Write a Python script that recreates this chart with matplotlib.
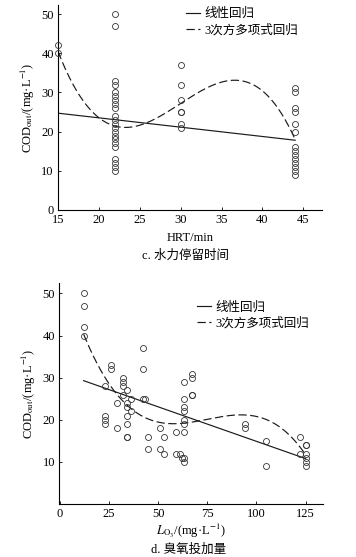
import numpy as np
from matplotlib import pyplot as plt

plt.rcParams['font.family'] = ['Liberation Serif', 'Noto Sans CJK SC']
plt.rcParams['mathtext.fontset'] = 'stix'
plt.rcParams['font.size'] = 9

# c. HRT panel, scatter values
hrt_x = [15, 15] + [22] * 22 + [30] * 7 + [44] * 14
hrt_y = [42, 40,
         50, 47, 33, 32, 30, 29, 28, 27, 26, 24, 23, 22, 21, 20, 19, 18, 17, 16, 13, 12, 11, 10,
         37, 32, 28, 25, 25, 22, 21,
         31, 30, 26, 25, 22, 20, 16, 15, 14, 13, 12, 11, 10, 9]
# points
hrt_lin_x = [15, 44]
hrt_lin_y = [24.7, 17.8]
hrt_cub_x = [15, 23.6, 30, 36.4, 44]
hrt_cub_y = [40.5, 20.9, 27.5, 32.9, 18.0]

# d. ozone dosage panel
o3_x = [12, 12, 12, 12, 23, 23, 23, 23, 26, 26, 29, 29, 32, 32, 32, 32,
        34, 34, 34, 34, 34, 34, 34, 36, 36, 42, 42, 42, 43, 45, 45, 51, 51,
        53, 53, 59, 59, 61, 62, 63, 63, 63, 63, 63, 63, 63, 63, 63,
        67, 67, 67, 67, 94, 94, 105, 105, 122, 122, 125, 125, 125, 125, 125, 125]
o3_y = [50, 47, 42, 40, 28, 21, 20, 19, 33, 32, 24, 18, 30, 29, 28, 26,
        27, 24, 23, 21, 19, 16, 16, 25, 22, 37, 32, 25, 25, 16, 13, 18, 13,
        16, 12, 17, 12, 12, 11, 29, 25, 23, 22, 20, 19, 17, 11, 10,
        31, 30, 26, 26, 19, 18, 15, 9, 16, 12, 14, 14, 12, 11, 10, 9]
o3_lin_x = [12, 125]
o3_lin_y = [29.3, 10.8]
o3_cub_x = [12, 34, 57, 94, 125]
o3_cub_y = [40.3, 23.6, 19.0, 21.2, 11.7]

lab_lin = '线性回归'
lab_cub = '3次方多项式回归'
ylab = r'COD$_{\rm out}$/(mg·L$^{-1}$)'


def panel(ax, x, y, lx, ly, cx, cy):
    ax.plot(x, y, 'o', mfc='none', mec='#333333', ms=4.3, mew=0.6, zorder=3, clip_on=False)
    lc = np.polyfit(lx, ly, 1)
    xs = np.linspace(min(lx), max(lx), 50)
    ax.plot(xs, np.polyval(lc, xs), color='#1a1a1a', lw=0.85, label=lab_lin)
    cc = np.polyfit(cx, cy, 3)
    xs = np.linspace(min(cx), max(cx), 200)
    ax.plot(xs, np.polyval(cc, xs), color='#1a1a1a', lw=0.85, dashes=(7, 3), label=lab_cub)
    for s in ['top', 'right']:
        ax.spines[s].set_visible(False)
    ax.tick_params(direction='in', length=2, width=0.6, labelsize=9, pad=3)
    ax.set_ylabel(ylab, fontsize=9, labelpad=3)


fig = plt.figure(figsize=(3.56, 5.57), dpi=100)

ax1 = fig.add_axes([0.163, 0.623, 0.742, 0.368])
panel(ax1, hrt_x, hrt_y, hrt_lin_x, hrt_lin_y, hrt_cub_x, hrt_cub_y)
ax1.set_xlim(15, 47.3)
ax1.set_ylim(0, 52.3)
ax1.set_xticks([15, 20, 25, 30, 35, 40, 45])
ax1.set_yticks([0, 10, 20, 30, 40, 50])
ax1.set_xlabel('HRT/min', fontsize=9, labelpad=4)
ax1.legend(loc='upper left', bbox_to_anchor=(0.465, 1.01), frameon=False, fontsize=9,
           handlelength=1.1, handletextpad=0.35, labelspacing=0.3, borderaxespad=0)
fig.text(0.52, 0.541, 'c. 水力停留时间', ha='center', va='center', fontsize=9)

ax2 = fig.add_axes([0.166, 0.095, 0.742, 0.397])
panel(ax2, o3_x, o3_y, o3_lin_x, o3_lin_y, o3_cub_x, o3_cub_y)
ax2.set_xlim(-0.5, 134)
ax2.set_ylim(0, 52.5)
ax2.set_xticks([0, 25, 50, 75, 100, 125])
ax2.set_yticks([10, 20, 30, 40, 50])
ax2.set_xlabel(r'$L_{\rm O_3}$/(mg·L$^{-1}$)', fontsize=9, labelpad=1)
ax2.legend(loc='upper left', bbox_to_anchor=(0.505, 0.94), frameon=False, fontsize=9,
           handlelength=1.1, handletextpad=0.35, labelspacing=0.3, borderaxespad=0)
fig.text(0.53, 0.014, 'd. 臭氧投加量', ha='center', va='center', fontsize=9)

fig.savefig('out.png', dpi=100)
